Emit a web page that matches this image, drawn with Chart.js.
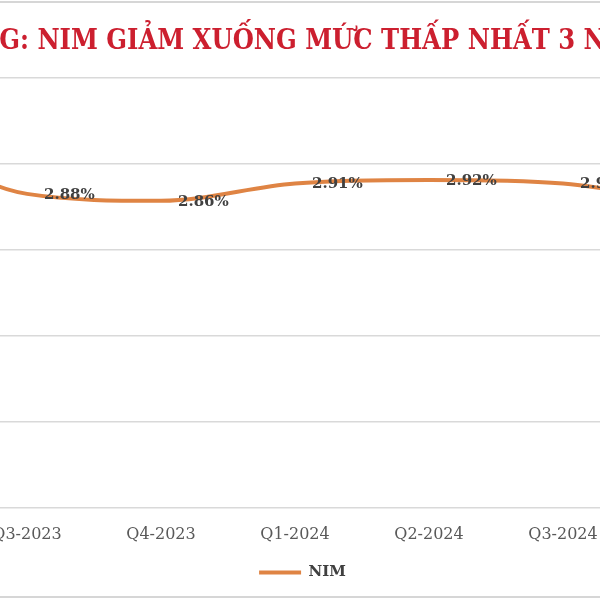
<!DOCTYPE html>
<html>
<head>
<meta charset="utf-8">
<script src="https://cdn.jsdelivr.net/npm/chart.js@4.4.1/dist/chart.umd.min.js"></script>
<style>
  html, body { margin: 0; padding: 0; background: #ffffff; }
  #frame { position: relative; width: 600px; height: 600px; overflow: hidden; background: #ffffff; }
  #c { position: absolute; top: 0; left: 0; }
  .edge { position: absolute; left: 0; width: 600px; height: 2px; background: #d6d6d6; }
</style>
</head>
<body>
<div id="frame">
  <canvas id="c" width="953" height="600"></canvas>
  <div class="edge" style="top:1px"></div>
  <div class="edge" style="top:596px"></div>
</div>
<script>
// ---- data ----
const titleText = "G: NIM GIẢM XUỐNG MỨC THẤP NHẤT 3 N";
const quarters = ["Q2-2023", "Q3-2023", "Q4-2023", "Q1-2024", "Q2-2024", "Q3-2024", "Q4-2024"];
const nimValues = [3.05, 2.88, 2.86, 2.91, 2.92, 2.91, 2.85];
const nimLabels = ["3.05%", "2.88%", "2.86%", "2.91%", "2.92%", "2.91%", "2.85%"];
const seriesName = "NIM";
const yMin = 1.967;
const yStep = 0.25;
const yCount = 5;

const valueLabelPlugin = {
  id: 'valueLabels',
  afterDatasetsDraw(chart) {
    const ctx = chart.ctx;
    const meta = chart.getDatasetMeta(0);
    ctx.save();
    ctx.font = 'bold 15px "DejaVu Serif"';
    ctx.fillStyle = '#404040';
    ctx.textAlign = 'left';
    ctx.textBaseline = 'middle';
    meta.data.forEach((pt, i) => {
      ctx.fillText(nimLabels[i], pt.x + 17, pt.y + 1);
    });
    ctx.restore();
  }
};

const chart = new Chart(document.getElementById('c'), {
  type: 'line',
  data: {
    labels: quarters,
    datasets: [{
      label: seriesName,
      data: nimValues,
      borderColor: '#DF8444',
      backgroundColor: '#DF8444',
      borderWidth: 4,
      borderCapStyle: 'round',
      borderJoinStyle: 'round',
      cubicInterpolationMode: 'monotone',
      pointRadius: 0,
      pointHoverRadius: 0,
      fill: false
    }]
  },
  options: {
    responsive: false,
    animation: false,
    devicePixelRatio: 1,
    layout: { padding: { left: 0, right: 0, top: 0, bottom: 10 } },
    plugins: {
      title: {
        display: true,
        text: titleText,
        color: '#CC1F2F',
        font: { family: '"DejaVu Serif Condensed", "DejaVu Serif"', weight: 'bold', size: 27, lineHeight: 1.2 },
        padding: { top: 26, bottom: 19.6 }
      },
      legend: {
        display: true,
        position: 'bottom',
        labels: {
          usePointStyle: true,
          pointStyle: 'line',
          pointStyleWidth: 42,
          color: '#404040',
          font: { family: '"DejaVu Serif"', size: 15, weight: 'bold' },
          padding: 4
        }
      },
      tooltip: { enabled: false }
    },
    scales: {
      x: {
        type: 'category',
        offset: true,
        grid: { display: false, drawTicks: false },
        border: { display: false },
        ticks: {
          color: '#595959',
          font: { family: '"DejaVu Serif"', size: 16 },
          padding: 17,
          maxRotation: 0,
          autoSkip: false
        }
      },
      y: {
        min: yMin,
        max: yMin + yCount * yStep,
        afterBuildTicks(scale) {
          const t = [];
          for (let i = 0; i <= yCount; i++) t.push({ value: yMin + i * yStep });
          scale.ticks = t;
        },
        grid: { color: '#D9D9D9', lineWidth: 1.5, drawTicks: false },
        border: { display: false },
        ticks: { display: false, padding: 0 }
      },
      ySpacer: {
        position: 'right',
        display: true,
        grid: { display: false, drawTicks: false },
        border: { display: false },
        ticks: { display: false },
        afterFit(scale) { scale.width = 15; }
      }
    }
  },
  plugins: [valueLabelPlugin]
});

document.getElementById('c').style.left = (-174 - chart.chartArea.left) + 'px';
</script>
</body>
</html>
